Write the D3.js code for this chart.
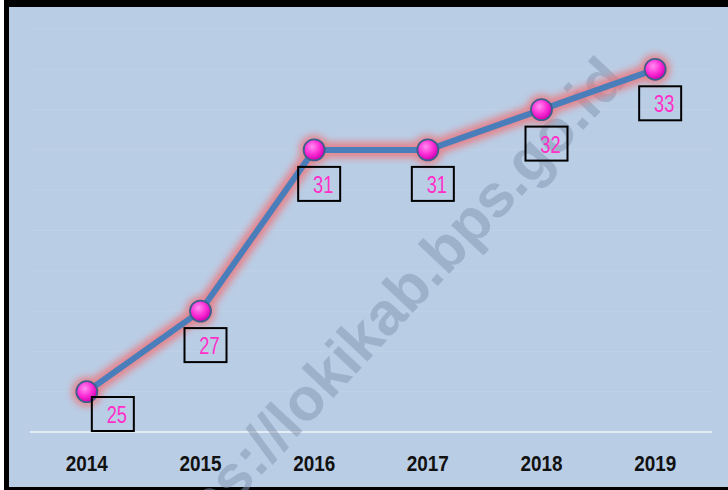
<!DOCTYPE html>
<html>
<head>
<meta charset="utf-8">
<script src="https://cdn.jsdelivr.net/npm/d3@7"></script>
<style>
  body { margin: 0; background: #fff; }
  svg { display: block; }
</style>
</head>
<body>
<div id="chart"></div>
<script>
const years = ["2014", "2015", "2016", "2017", "2018", "2019"];
const values = [25, 27, 31, 31, 32, 33];
const yTicks = [24, 25, 26, 27, 28, 29, 30, 31, 32, 33, 34];
const watermark = "https://lokikab.bps.go.id";

const W = 728, H = 490;
const plot = {left: 30, right: 712, top: 29, bottom: 432};

const svg = d3.select("#chart")
  .append("svg")
  .attr("width", W)
  .attr("height", H);

const defs = svg.append("defs");

const grad = defs.append("radialGradient")
  .attr("id", "ball")
  .attr("cx", "40%").attr("cy", "35%").attr("r", "65%");
grad.append("stop").attr("offset", "0%").attr("stop-color", "#ff8cf2");
grad.append("stop").attr("offset", "55%").attr("stop-color", "#ff2fd6");
grad.append("stop").attr("offset", "100%").attr("stop-color", "#d000b4");

const glow = defs.append("filter")
  .attr("id", "glow")
  .attr("x", "-20%").attr("y", "-20%").attr("width", "140%").attr("height", "140%");
glow.append("feGaussianBlur").attr("stdDeviation", 3.5);

// frame
svg.append("rect")
  .attr("x", 4).attr("y", 0)
  .attr("width", W - 4).attr("height", H)
  .attr("fill", "#000");
svg.append("rect")
  .attr("x", 9).attr("y", 7)
  .attr("width", W - 9).attr("height", 480)
  .attr("fill", "#b9cde5");

const x = d3.scaleBand()
  .domain(years)
  .range([plot.left, plot.right]);

const y = d3.scaleLinear()
  .domain([24, 34])
  .range([plot.bottom, plot.top]);

const cx = d => x(d.year) + x.bandwidth() / 2;
const cy = d => y(d.value);

const data = years.map((yr, i) => ({year: yr, value: values[i]}));

// faint gridlines
svg.append("g")
  .selectAll("line")
  .data(yTicks.slice(1))
  .enter()
  .append("line")
  .attr("x1", plot.left).attr("x2", plot.right)
  .attr("y1", d => y(d)).attr("y2", d => y(d))
  .attr("stroke", "#bfd2e7")
  .attr("stroke-width", 1);

// baseline
svg.append("line")
  .attr("x1", plot.left).attr("x2", plot.right)
  .attr("y1", y(24)).attr("y2", y(24))
  .attr("stroke", "#e4ecf5")
  .attr("stroke-width", 2);

// watermark
svg.append("text")
  .attr("transform", "translate(393,334) rotate(-47)")
  .attr("text-anchor", "middle")
  .attr("font-family", "Liberation Sans, Arial, sans-serif")
  .attr("font-weight", "bold")
  .attr("font-size", 60)
  .attr("fill", "#8296b2")
  .attr("fill-opacity", 0.5)
  .text(watermark);

// x axis labels
const xAxis = d3.axisBottom(x).tickSize(0).tickPadding(0);
const gx = svg.append("g")
  .attr("transform", `translate(0,${plot.bottom})`)
  .call(xAxis);
gx.select(".domain").remove();
gx.selectAll("text")
  .attr("y", 0)
  .attr("dy", 0)
  .attr("transform", "translate(0,39) scale(0.86,1)")
  .attr("font-family", "Liberation Sans, Arial, sans-serif")
  .attr("font-weight", "bold")
  .attr("font-size", 22)
  .attr("fill", "#111");

const line = d3.line().x(cx).y(cy);

// glow under the line and markers
const glowG = svg.append("g").attr("filter", "url(#glow)").attr("opacity", 0.8);
glowG.append("path")
  .datum(data)
  .attr("d", line)
  .attr("fill", "none")
  .attr("stroke", "#ee7479")
  .attr("stroke-width", 16)
  .attr("stroke-linejoin", "round");
glowG.selectAll("circle")
  .data(data)
  .enter()
  .append("circle")
  .attr("cx", cx).attr("cy", cy)
  .attr("r", 15)
  .attr("fill", "#ee7479");

svg.append("path")
  .datum(data)
  .attr("d", line)
  .attr("fill", "none")
  .attr("stroke", "#4a7ebb")
  .attr("stroke-width", 6)
  .attr("stroke-linejoin", "round");

svg.selectAll(".pt")
  .data(data)
  .enter()
  .append("circle")
  .attr("class", "pt")
  .attr("cx", cx).attr("cy", cy)
  .attr("r", 10.5)
  .attr("fill", "url(#ball)")
  .attr("stroke", "#3e5f8c")
  .attr("stroke-width", 1.8);

// data labels in boxes
const boxW = 42, boxH = 34;
const boxTop = d => Math.min(cy(d) + 17, plot.bottom - boxH - 1);
const boxLeft = d => (boxTop(d) < cy(d) + 12 ? cx(d) + 5 : cx(d) - 16);

const labels = svg.selectAll(".lbl")
  .data(data)
  .enter()
  .append("g")
  .attr("class", "lbl")
  .attr("transform", d => `translate(${boxLeft(d)},${boxTop(d)})`);

labels.append("rect")
  .attr("width", boxW).attr("height", boxH)
  .attr("fill", "none")
  .attr("stroke", "#000")
  .attr("stroke-width", 2);

labels.append("text")
  .attr("transform", `translate(${boxW / 2 + 4},26) scale(0.76,1)`)
  .attr("text-anchor", "middle")
  .attr("font-family", "Liberation Sans, Arial, sans-serif")
  .attr("font-size", 24)
  .attr("fill", "#ff2fc8")
  .text(d => d.value);
</script>
</body>
</html>
